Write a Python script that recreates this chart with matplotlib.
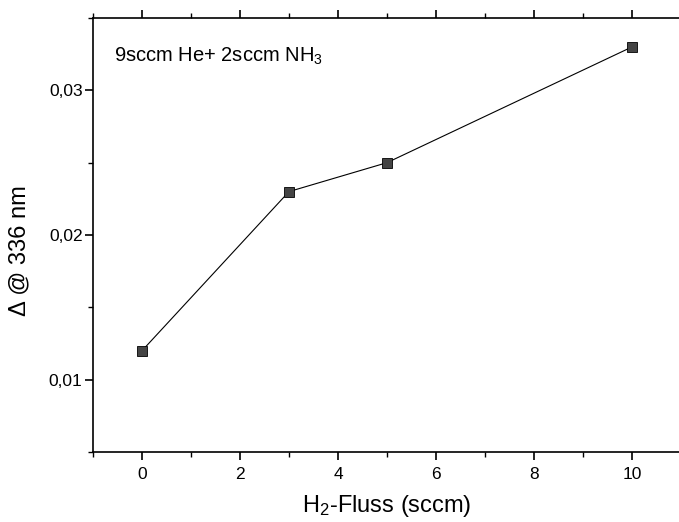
import matplotlib
matplotlib.use("Agg")
import matplotlib.pyplot as plt
from matplotlib.ticker import MultipleLocator, FuncFormatter

flow = [0, 3, 5, 10]
delta = [0.012, 0.023, 0.025, 0.033]
x_ticks = [0, 2, 4, 6, 8, 10]
y_ticks = [0.01, 0.02, 0.03]

plt.rcParams['font.family'] = ['Liberation Sans', 'DejaVu Sans']
plt.rcParams['mathtext.fontset'] = 'custom'
plt.rcParams['mathtext.rm'] = 'Liberation Sans'
plt.rcParams['mathtext.it'] = 'Liberation Sans:italic'

fig = plt.figure(figsize=(6.79, 5.22), dpi=100)
ax = fig.add_axes([93/679, 1 - 452/522, (681 - 93)/679, (452 - 18)/522])

ax.plot(flow, delta, color='black', lw=0.8, marker='s', markersize=6.5,
        markerfacecolor='#444444', markeredgecolor='black', markeredgewidth=0.6)

ax.set_xlim(-1, 11)
ax.set_ylim(0.005, 0.035)
ax.set_xticks(x_ticks)
ax.set_yticks(y_ticks)
ax.xaxis.set_minor_locator(MultipleLocator(1))
ax.yaxis.set_minor_locator(MultipleLocator(0.005))
ax.yaxis.set_major_formatter(FuncFormatter(lambda v, p: f"{v:.2f}".replace('.', ',')))
ax.xaxis.set_major_formatter(FuncFormatter(lambda v, p: f"{v:g}"))

ax.spines['right'].set_visible(False)
for s in ['left', 'bottom', 'top']:
    ax.spines[s].set_linewidth(1.2)
ax.tick_params(axis='x', which='both', direction='out', top=True, bottom=True, labelsize=12.5, pad=5)
ax.tick_params(axis='y', which='both', direction='out', left=True, right=False, labelsize=12.5, pad=1.5)
ax.tick_params(which='major', length=6, width=1.2)
ax.tick_params(which='minor', length=3.5, width=1.0)

ax.set_xlabel('H$_\\mathregular{2}$-Fluss (sccm)', fontsize=17, labelpad=8)
ax.set_ylabel('Δ @ 336 nm', fontsize=17)
ax.yaxis.set_label_coords(-0.107, 0.465)

ax.text(0.036, 0.912, '9sccm He+ 2sccm NH$_\\mathregular{3}$', transform=ax.transAxes,
        fontsize=14.5, va='center', ha='left')

fig.savefig('out.png', dpi=100)
